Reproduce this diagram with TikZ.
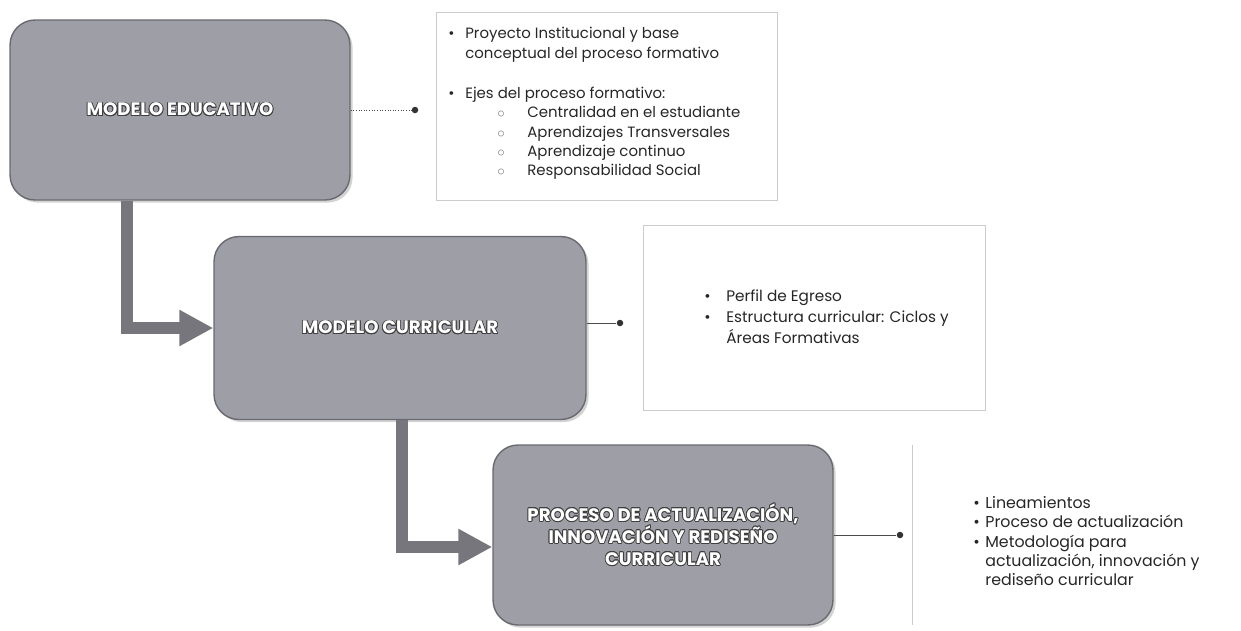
\documentclass[tikz,border=0pt]{standalone}
\usepackage{fontspec}
\setmainfont{Poppins}
\usepackage[copies]{contour}
\usetikzlibrary{arrows.meta,shadows}

\definecolor{stagegray}{RGB}{158,158,166}
\definecolor{stageedge}{RGB}{105,105,112}
\definecolor{flowgray}{RGB}{118,118,124}
\contourlength{0.45pt}

\newcommand{\itm}{\makebox[0.34cm][l]{\textbullet}}
\newcommand{\cont}{\hspace*{0.34cm}}
\newcommand{\subitm}{\hspace*{0.98cm}\makebox[0.6cm][l]{\textcolor{gray}{$\circ$}}}
\newcommand{\ctext}[1]{\contour{black!75}{#1}}

\begin{document}
\begin{tikzpicture}[x=0.02cm, y=-0.02cm,
    stage/.style={rectangle, rounded corners=0.5cm, fill=stagegray, draw=stageedge, line width=0.8pt,
        drop shadow={opacity=0.35, shadow xshift=1.5pt, shadow yshift=-1.5pt},
        minimum width=6.8cm, minimum height=3.6cm, align=center, text=white,
        font=\bfseries\fontsize{10.3}{12.5}\selectfont},
    flow/.style={draw=flowgray, line width=0.24cm, -{Triangle[length=0.68cm, width=0.68cm]}},
    link/.style={draw=gray!60!black, line width=0.5pt},
    dot/.style={circle, fill=black!80, inner sep=0pt, minimum size=0.13cm},
    panel/.style={draw=gray!40, line width=0.5pt},
    listtext/.style={anchor=north west, align=left, inner sep=0pt, text=black!85,
        font=\fontsize{8.5}{11}\selectfont}]
        \useasboundingbox (0,0) rectangle (1241,630);

        % stages
        \node[stage] (edu) at (180,110) {\ctext{MODELO EDUCATIVO}};
        \node[stage, minimum width=7.44cm, minimum height=3.66cm] (cur) at (400,328) {\ctext{MODELO CURRICULAR}};
        \node[stage] (proc) at (663,535) {\ctext{PROCESO DE ACTUALIZACIÓN,}\\ \ctext{INNOVACIÓN Y REDISEÑO}\\ \ctext{CURRICULAR}};

        % panels
        \node[panel, minimum width=6.82cm, minimum height=3.76cm] (edupanel) at (607,106) {};
        \node[panel, minimum width=6.84cm, minimum height=3.7cm] (curpanel) at (814,318) {};
        \coordinate (proctop) at (912,445);
        \coordinate (procbot) at (912,625);
        \draw[panel] (proctop) -- (procbot);

        % texts
        \node[listtext] (edutxt) at (448,27) {\itm Proyecto Institucional y base\\
            \cont conceptual del proceso formativo\\[12pt]
            \itm Ejes del proceso formativo:\\
            \subitm Centralidad en el estudiante\\
            \subitm Aprendizajes Transversales\\
            \subitm Aprendizaje continuo\\
            \subitm Responsabilidad Social};
        \node[listtext, font=\fontsize{8.7}{12}\selectfont] (curtxt) at (704,289) {\makebox[0.44cm][l]{\textbullet}Perfil de Egreso\\
            \makebox[0.44cm][l]{\textbullet}Estructura curricular: Ciclos y\\
            \hspace*{0.44cm}Áreas Formativas};
        \node[listtext, font=\fontsize{9}{11}\selectfont] (proctxt) at (973,496) {\makebox[0.24cm][l]{\textbullet}Lineamientos\\
            \makebox[0.24cm][l]{\textbullet}Proceso de actualización\\
            \makebox[0.24cm][l]{\textbullet}Metodología para\\
            \hspace*{0.24cm}actualización, innovación y\\
            \hspace*{0.24cm}rediseño curricular};

        % connectors
        \node[dot] (edudot) at (415,110) {};
        \node[dot] (curdot) at (620,323) {};
        \node[dot] (procdot) at (900,535) {};
        \draw[link, densely dotted] (edu.east) -- (edudot);
        \draw[link] (cur.east |- curdot) -- (curdot);
        \draw[link] (proc.east) -- (procdot);

        \draw[flow] ([xshift=2.36cm]edu.south west) |- (cur.west);
        \draw[flow] ([xshift=3.78cm]cur.south west) |- ([yshift=-0.24cm]proc.west);
\end{tikzpicture}
\end{document}
